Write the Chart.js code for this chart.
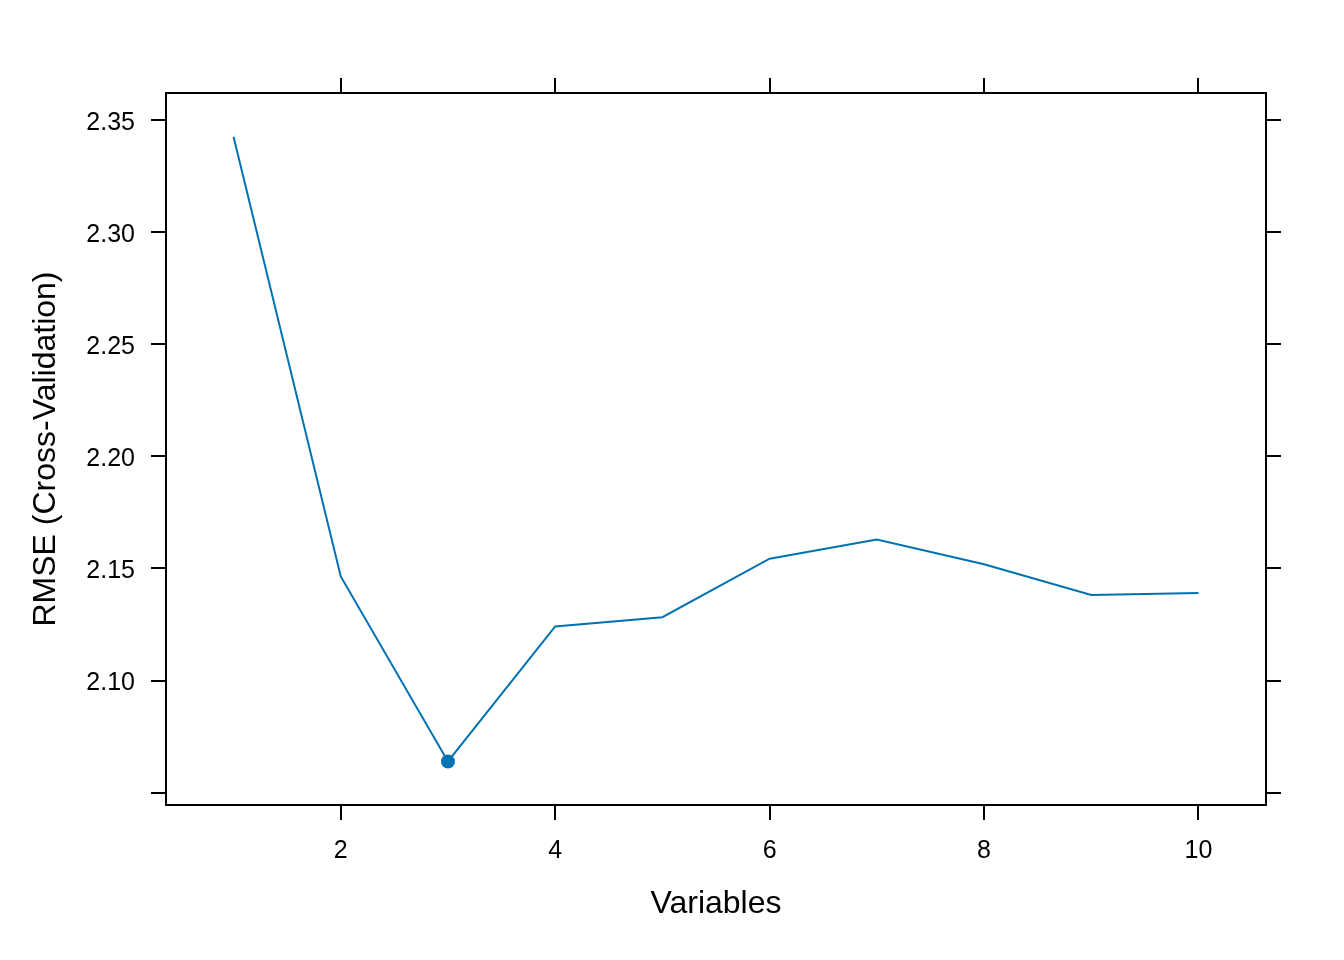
<!DOCTYPE html>
<html>
<head>
<meta charset="utf-8">
<script src="https://cdn.jsdelivr.net/npm/chart.js@4/dist/chart.umd.min.js"></script>
<style>
    body { margin: 0; background: #ffffff; }
    #wrap { width: 1344px; height: 960px; }
</style>
</head>
<body>
<div id="wrap"><canvas id="chartRfe" width="1344" height="960"></canvas></div>
<script>
'use strict';

/* Données */
var VARIABLES     = [1, 2, 3, 4, 5, 6, 7, 8, 9, 10];
var RMSE          = [2.3424, 2.1464, 2.0639, 2.1241, 2.1282, 2.1543, 2.1628, 2.1518, 2.1381, 2.1390];
var X_TICKS       = [2, 4, 6, 8, 10];
var Y_TICKS       = [2.05, 2.10, 2.15, 2.20, 2.25, 2.30, 2.35];
var Y_TICK_LABELS = ['', '2.10', '2.15', '2.20', '2.25', '2.30', '2.35'];

var X_MIN = 0.37, X_MAX = 10.63;
var Y_MIN = 2.0445, Y_MAX = 2.3619;

var LINE_COLOR = '#0072B2';
var FONT       = '"Liberation Sans", Arial, sans-serif';

/* Point marqué seulement au minimum */
var best = RMSE.indexOf(Math.min.apply(null, RMSE));
var radii = RMSE.map(function (_, i) { return i === best ? 7 : 0; });

var points = VARIABLES.map(function (v, i) { return { x: v, y: RMSE[i] }; });

function fixedTicks(list) {
    return function (scale) {
        scale.ticks = list.map(function (v) { return { value: v }; });
    };
}

function axisGrid() {
    return {
        drawOnChartArea: false,
        drawTicks:       true,
        tickLength:      15,
        color:           '#000000',
        lineWidth:       2
    };
}

var border = { display: true, color: '#000000', width: 2 };

new Chart(document.getElementById('chartRfe'), {
    type: 'line',
    data: {
        datasets: [{
            data:             points,
            borderColor:      LINE_COLOR,
            backgroundColor:  LINE_COLOR,
            borderWidth:      2,
            pointRadius:      radii,
            pointBorderWidth: 0,
            fill:             false,
            tension:          0
        }]
    },
    options: {
        responsive: false,
        animation:  false,
        layout:     { padding: 0 },
        plugins: {
            legend:  { display: false },
            tooltip: { enabled: false }
        },
        scales: {
            x: {
                type: 'linear', position: 'bottom',
                min: X_MIN, max: X_MAX,
                afterBuildTicks: fixedTicks(X_TICKS),
                afterFit: function (s) { s.height = 155; },
                grid: axisGrid(), border: border,
                ticks: {
                    color: '#000000', padding: 16, maxRotation: 0,
                    font: { family: FONT, size: 25 },
                    callback: function (v) { return String(v); }
                },
                title: {
                    display: true, text: 'Variables', color: '#000000',
                    font: { family: FONT, size: 32 },
                    padding: { top: 0, bottom: 37 }
                }
            },
            x2: {
                type: 'linear', position: 'top', axis: 'x',
                min: X_MIN, max: X_MAX,
                afterBuildTicks: fixedTicks(X_TICKS),
                afterFit: function (s) { s.height = 93; },
                grid: axisGrid(), border: border,
                ticks: { display: false }
            },
            y: {
                type: 'linear', position: 'left',
                min: Y_MIN, max: Y_MAX,
                afterBuildTicks: fixedTicks(Y_TICKS),
                afterFit: function (s) { s.width = 166; },
                grid: axisGrid(), border: border,
                ticks: {
                    color: '#000000', padding: 16, labelOffset: 3,
                    font: { family: FONT, size: 25 },
                    callback: function (v) {
                        var i = Y_TICKS.findIndex(function (t) { return Math.abs(t - v) < 1e-9; });
                        return i >= 0 ? Y_TICK_LABELS[i] : '';
                    }
                },
                title: {
                    display: true, text: 'RMSE (Cross-Validation)', color: '#000000',
                    font: { family: FONT, size: 32 },
                    padding: { top: 27, bottom: 0 }
                }
            },
            y2: {
                type: 'linear', position: 'right', axis: 'y',
                min: Y_MIN, max: Y_MAX,
                afterBuildTicks: fixedTicks(Y_TICKS),
                afterFit: function (s) { s.width = 78; },
                grid: axisGrid(), border: border,
                ticks: { display: false }
            }
        }
    }
});
</script>
</body>
</html>
